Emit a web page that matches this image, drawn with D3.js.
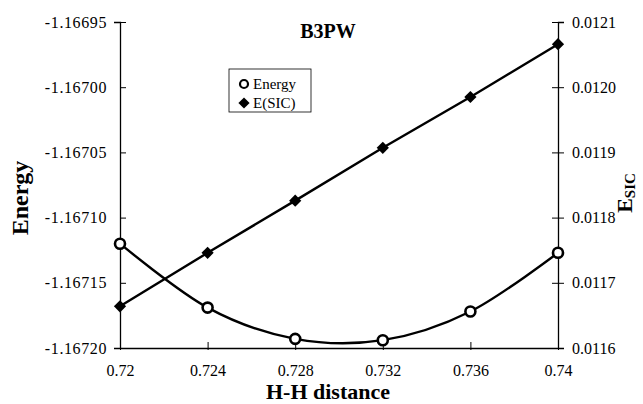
<!DOCTYPE html>
<html>
<head>
<meta charset="utf-8">
<script src="https://cdn.jsdelivr.net/npm/d3@7"></script>
<style>
  body { margin: 0; background: #fff; }
  svg text { font-family: "Liberation Serif", "Times New Roman", serif; fill: #000; }
</style>
</head>
<body>
<svg id="chart" width="643" height="404"></svg>
<script>
// data
const distances = [0.72, 0.724, 0.728, 0.732, 0.736, 0.74];
const energy = [-1.16712, -1.167169, -1.167193, -1.167194, -1.167172, -1.167127];
const eSic = [0.011664, 0.011746, 0.011826, 0.011907, 0.011985, 0.012066];
const xTicks = [0.72, 0.724, 0.728, 0.732, 0.736, 0.74];
const energyTicks = [-1.16720, -1.16715, -1.16710, -1.16705, -1.16700, -1.16695];
const sicTicks = [0.0116, 0.0117, 0.0118, 0.0119, 0.0120, 0.0121];

const margin = { left: 120, right: 85, top: 22, bottom: 56 };
const width = 643, height = 404;
const serif = '"Liberation Serif", "Times New Roman", serif';

const svg = d3.select('#chart');

const x = d3.scaleLinear().domain([0.72, 0.74]).range([margin.left, width - margin.right]);
const yE = d3.scaleLinear().domain([-1.16720, -1.16695]).range([height - margin.bottom, margin.top]);
const yS = d3.scaleLinear().domain([0.0116, 0.0121]).range([height - margin.bottom, margin.top]);

// x axis
const xAxis = svg.append('g')
  .attr('transform', `translate(0,${height - margin.bottom})`)
  .call(d3.axisBottom(x).tickValues(xTicks).tickSize(0).tickPadding(17)
    .tickFormat(d => String(+d.toFixed(3))));
xAxis.selectAll('.tick').append('line').attr('y1', -6).attr('y2', 2).attr('stroke', '#000');

// left axis
const yAxisL = svg.append('g')
  .attr('transform', `translate(${margin.left},0)`)
  .call(d3.axisLeft(yE).tickValues(energyTicks).tickSize(6).tickPadding(7)
    .tickFormat(d => d.toFixed(5)));
yAxisL.selectAll('.tick line').attr('x2', 6);
yAxisL.selectAll('text').attr('letter-spacing', 0.6);

// right axis
const yAxisR = svg.append('g')
  .attr('transform', `translate(${width - margin.right},0)`)
  .call(d3.axisRight(yS).tickValues(sicTicks).tickSize(6).tickPadding(8)
    .tickFormat(d => d.toFixed(4)));
yAxisR.selectAll('.tick line').attr('x1', -6);

[xAxis, yAxisL, yAxisR].forEach(g => {
  g.attr('font-family', serif).attr('font-size', 16);
  g.select('.domain').attr('stroke', '#000').attr('stroke-width', 1.3);
  g.selectAll('.tick line').attr('stroke', '#000');
});

// lines
const energyPts = distances.map((d, i) => [x(d), yE(energy[i])]);
const sicPts = distances.map((d, i) => [x(d), yS(eSic[i])]);

svg.append('path')
  .attr('d', d3.line().curve(d3.curveCardinal.tension(0))(energyPts))
  .attr('fill', 'none').attr('stroke', '#000').attr('stroke-width', 2.4);

svg.append('path')
  .attr('d', d3.line()(sicPts))
  .attr('fill', 'none').attr('stroke', '#000').attr('stroke-width', 2.4);

// markers
svg.selectAll('.circ').data(energyPts).enter().append('circle')
  .attr('cx', d => d[0]).attr('cy', d => d[1]).attr('r', 5)
  .attr('fill', '#fff').attr('stroke', '#000').attr('stroke-width', 2.6);

const diamond = d3.symbol().type(d3.symbolDiamond2).size(95);
svg.selectAll('.diam').data(sicPts).enter().append('path')
  .attr('transform', d => `translate(${d[0]},${d[1]})`)
  .attr('d', diamond).attr('fill', '#000');

// titles
svg.append('text').attr('x', 328).attr('y', 38)
  .attr('text-anchor', 'middle').attr('font-size', 20).attr('font-weight', 'bold')
  .text('B3PW');

svg.append('text').attr('x', 328).attr('y', 399)
  .attr('text-anchor', 'middle').attr('font-size', 22).attr('font-weight', 'bold')
  .text('H-H distance');

svg.append('text')
  .attr('transform', 'translate(28,198) rotate(-90)')
  .attr('text-anchor', 'middle').attr('font-size', 24).attr('font-weight', 'bold')
  .text('Energy');

const esic = svg.append('text')
  .attr('transform', 'translate(632,193) rotate(-90)')
  .attr('text-anchor', 'middle').attr('font-size', 22).attr('font-weight', 'bold');
esic.append('tspan').text('E');
esic.append('tspan').attr('font-size', 15).attr('dy', 3).text('SIC');

// legend
const legend = svg.append('g').attr('transform', 'translate(229,69)');
legend.append('rect').attr('width', 82).attr('height', 43)
  .attr('fill', '#fff').attr('stroke', '#000').attr('stroke-width', 0.8);
legend.append('circle').attr('cx', 15).attr('cy', 15).attr('r', 4)
  .attr('fill', '#fff').attr('stroke', '#000').attr('stroke-width', 2.2);
legend.append('path').attr('transform', 'translate(15,34)')
  .attr('d', d3.symbol().type(d3.symbolDiamond2).size(80)).attr('fill', '#000');
legend.append('text').attr('x', 24).attr('y', 20).attr('font-size', 15).text('Energy');
legend.append('text').attr('x', 24).attr('y', 39).attr('font-size', 15).text('E(SIC)');
</script>
</body>
</html>
